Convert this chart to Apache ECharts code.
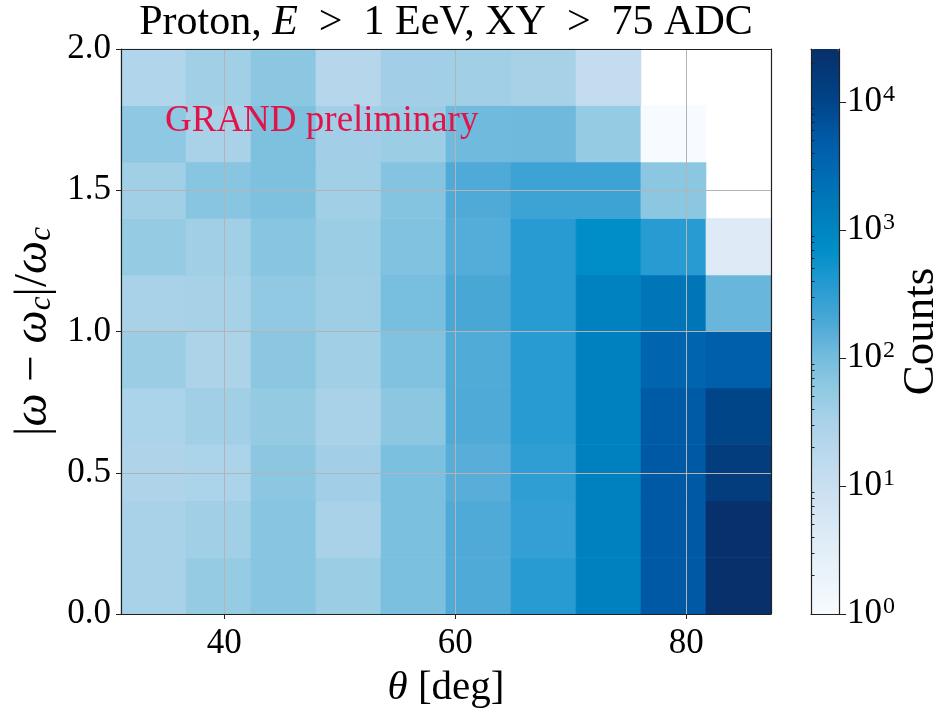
<!DOCTYPE html>
<html><head><meta charset="utf-8">
<script src="https://cdn.jsdelivr.net/npm/echarts@6/dist/echarts.min.js"></script>
<style>html,body{margin:0;padding:0;background:#fff}#c{width:935px;height:717px}</style>
</head><body><div id="c"></div>
<script>
// ---- data ----
const thetaEdges = [31.05, 36.68, 42.31, 47.93, 53.56, 59.19, 64.82, 70.45, 76.07, 81.70, 87.33];
const ratioEdges = [0.0, 0.2, 0.4, 0.6, 0.8, 1.0, 1.2, 1.4, 1.6, 1.8, 2.0];
// rows: ratio bins from bottom (0-0.2) to top (1.8-2.0); columns: theta bins low->high
const counts = [
  [33, 50, 70, 45, 85, 178, 355, 1200, 5370, 26000],
  [32, 40, 70, 32, 85, 178, 295, 1200, 5370, 25500],
  [27, 30, 63, 38, 85, 158, 316, 1200, 5370, 14100],
  [30, 40, 52, 32, 63, 178, 355, 1200, 5000, 10000],
  [45, 28, 63, 40, 79, 174, 355, 1200, 3550, 4270],
  [32, 35, 56, 43, 93, 200, 355, 1120, 1780, 123],
  [50, 40, 70, 45, 79, 166, 355, 708, 355, 4],
  [40, 70, 83, 40, 74, 178, 250, 250, 63, 0],
  [60, 32, 83, 38, 45, 107, 112, 50, 1, 0],
  [25, 40, 63, 21, 38, 40, 35, 13, 0, 0]
];
const xTicks = [40, 60, 80];
const yTicks = [0.0, 0.5, 1.0, 1.5, 2.0];
const cbDecades = [0, 1, 2, 3, 4];

// ---- build ----
const FONT = '"Liberation Serif", "DejaVu Serif", serif';
const cells = [];
for (let r = 0; r < counts.length; r++) {
  for (let c = 0; c < counts[r].length; c++) {
    const v = counts[r][c];
    if (v > 0) cells.push([thetaEdges[c], thetaEdges[c + 1], ratioEdges[r], ratioEdges[r + 1], Math.log10(v), v]);
  }
}
const cbMax = Math.log10(Math.max(...counts.flat()));
const minorVals = [];
for (let k = 0; k <= 4; k++) for (let m = 2; m <= 9; m++) { const l = k + Math.log10(m); if (l <= cbMax) minorVals.push(l); }

// colormap stops (log10 count -> rgb)
const stops = [
  [0.0, [247,251,255]], [0.6, [222,235,246]], [1.1, [196,220,239]], [1.5, [170,210,232]],
  [1.8, [140,200,226]], [2.05, [110,185,220]], [2.25, [80,170,215]], [2.55, [40,155,210]],
  [2.85, [0,142,200]], [3.05, [0,130,192]], [3.3, [0,115,183]], [3.55, [0,100,175]],
  [3.75, [0,88,163]], [4.0, [0,68,136]], [4.415, [8,48,107]]
];
function cmapAt(l) {
  if (l <= stops[0][0]) return stops[0][1];
  for (let i = 1; i < stops.length; i++) {
    if (l <= stops[i][0]) {
      const a = stops[i-1], b = stops[i], t = (l - a[0]) / (b[0] - a[0]);
      return a[1].map((v, j) => Math.round(v + (b[1][j] - v) * t));
    }
  }
  return stops[stops.length - 1][1];
}
const cmap = [];
const N = 80;
for (let i = 0; i < N; i++) { const c = cmapAt(cbMax * i / (N - 1)); cmap.push('rgb(' + c.join(',') + ')'); }

const AX = '#222';
const TICK_FS = 35;
const chart = echarts.init(document.getElementById('c'), null, {renderer: 'canvas'});
chart.setOption({
  animation: false,
  backgroundColor: '#fff',
  grid: [
    {left: 121, top: 49, width: 650, height: 565, outerBoundsMode: 'none', containLabel: false},
    {left: 811, top: 49, width: 28, height: 565, outerBoundsMode: 'none', containLabel: false}
  ],
  visualMap: {
    type: 'continuous', min: 0, max: cbMax, dimension: 4, seriesIndex: 0,
    inRange: {color: cmap}, orient: 'vertical', left: 811, top: 49,
    itemWidth: 28, itemHeight: 565, calculable: false, hoverLink: false, padding: 0,
    text: null, showLabel: false
  },
  xAxis: [
    {gridIndex: 0, type: 'value', min: thetaEdges[0], max: thetaEdges[thetaEdges.length-1], position: 'bottom', z: 5,
     axisLine: {show: true, onZero: false, lineStyle: {color: AX, width: 1.2}},
     axisTick: {show: true, customValues: xTicks, length: 5, lineStyle: {color: AX}},
     axisLabel: {customValues: xTicks, color: '#000', fontFamily: FONT, fontSize: TICK_FS, margin: 12},
     splitLine: {show: true, lineStyle: {color: '#b4b4b4', width: 1}},
     name: '{i|θ} [deg]', nameLocation: 'middle', nameGap: 54, nameMoveOverlap: false,
     nameTextStyle: {color: '#000', fontFamily: FONT, fontSize: 41,
       rich: {i: {fontFamily: FONT, fontSize: 41, fontStyle: 'italic', color: '#000'}}}},
    {gridIndex: 0, type: 'value', min: thetaEdges[0], max: thetaEdges[thetaEdges.length-1], position: 'top', z: 5,
     axisLine: {show: true, onZero: false, lineStyle: {color: AX, width: 1.2}},
     axisTick: {show: false}, axisLabel: {show: false}, splitLine: {show: false},
     name: 'Proton, {i|E}  >  1 EeV, XY  >  75 ADC', nameLocation: 'middle', nameGap: 5, nameMoveOverlap: false,
     nameTextStyle: {color: '#000', fontFamily: FONT, fontSize: 42,
       rich: {i: {fontFamily: FONT, fontSize: 42, fontStyle: 'italic', color: '#000'}}}},
    {gridIndex: 1, type: 'value', min: 0, max: 1, position: 'bottom',
     axisLine: {show: true, onZero: false, lineStyle: {color: AX, width: 1.2}},
     axisTick: {show: false}, axisLabel: {show: false}, splitLine: {show: false}},
    {gridIndex: 1, type: 'value', min: 0, max: 1, position: 'top',
     axisLine: {show: true, onZero: false, lineStyle: {color: AX, width: 1.2}},
     axisTick: {show: false}, axisLabel: {show: false}, splitLine: {show: false}}
  ],
  yAxis: [
    {gridIndex: 0, type: 'value', min: 0, max: 2, interval: 0.5, position: 'left', z: 5,
     axisLine: {show: true, onZero: false, lineStyle: {color: AX, width: 1.2}},
     axisTick: {show: true, customValues: yTicks, length: 5, lineStyle: {color: AX}},
     axisLabel: {customValues: yTicks, color: '#000', fontFamily: FONT, fontSize: TICK_FS, margin: 10, formatter: v => v.toFixed(1)},
     splitLine: {show: true, lineStyle: {color: '#b4b4b4', width: 1}},
     name: '|{i|ω} − {i|ω}{sub|c}|/{i|ω}{sub|c}', nameLocation: 'middle', nameRotate: 90, nameGap: 64, nameMoveOverlap: false,
     nameTextStyle: {color: '#000', fontFamily: FONT, fontSize: 47,
       rich: {i: {fontFamily: FONT, fontSize: 47, fontStyle: 'italic', color: '#000'},
              sub: {fontFamily: FONT, fontSize: 31, fontStyle: 'italic', color: '#000', verticalAlign: 'bottom', padding: [16, 0, 0, 0]}}}},
    {gridIndex: 0, type: 'value', min: 0, max: 2, position: 'right', z: 5,
     axisLine: {show: true, onZero: false, lineStyle: {color: AX, width: 1.2}},
     axisTick: {show: false}, axisLabel: {show: false}, splitLine: {show: false}},
    {gridIndex: 1, type: 'value', min: 0, max: cbMax, position: 'right', z: 5,
     axisLine: {show: true, onZero: false, lineStyle: {color: AX, width: 1.2}},
     axisTick: {show: true, customValues: cbDecades, length: 7, lineStyle: {color: AX}},
     axisLabel: {customValues: cbDecades, margin: 8, formatter: v => '{b|10}{s|' + Math.round(v) + '}',
       rich: {b: {fontFamily: FONT, fontSize: TICK_FS, color: '#000'},
              s: {fontFamily: FONT, fontSize: 24, color: '#000', verticalAlign: 'top', padding: [0, 0, 14, 1]}}},
     splitLine: {show: false},
     name: 'Counts', nameLocation: 'middle', nameRotate: 90, nameGap: 60, nameMoveOverlap: false,
     nameTextStyle: {color: '#000', fontFamily: FONT, fontSize: 45}},
    {gridIndex: 1, type: 'value', min: 0, max: cbMax, position: 'right', z: 5,
     axisLine: {show: false},
     axisTick: {show: true, customValues: minorVals, length: 3.5, lineStyle: {color: AX}},
     axisLabel: {show: false}, splitLine: {show: false}},
    {gridIndex: 1, type: 'value', min: 0, max: cbMax, position: 'left', z: 5,
     axisLine: {show: true, onZero: false, lineStyle: {color: AX, width: 1.2}},
     axisTick: {show: false}, axisLabel: {show: false}, splitLine: {show: false}}
  ],
  graphic: [
    {type: 'text', left: 165, top: 103, z: 10, silent: true,
     style: {text: 'GRAND preliminary', font: '37px ' + FONT, fill: '#e0144a'}}
  ],
  series: [{
    type: 'custom', xAxisIndex: 0, yAxisIndex: 0, z: 2, silent: true,
    encode: {x: [0, 1], y: [2, 3]},
    data: cells,
    renderItem: function (params, api) {
      const p0 = api.coord([api.value(0), api.value(3)]);
      const p1 = api.coord([api.value(1), api.value(2)]);
      const col = api.visual('color');
      return {type: 'rect', shape: {x: p0[0], y: p0[1], width: p1[0] - p0[0], height: p1[1] - p0[1]},
              style: {fill: col, stroke: col, lineWidth: 0.6}};
    }
  }]
});
</script></body></html>
